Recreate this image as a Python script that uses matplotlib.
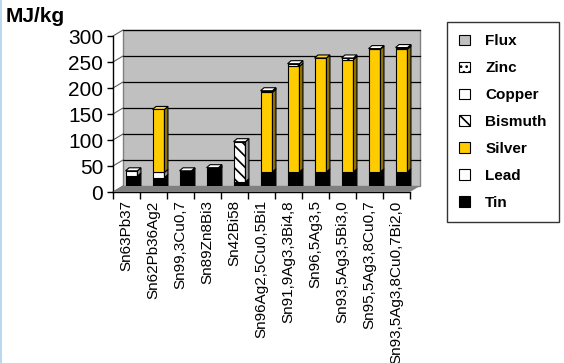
import matplotlib
matplotlib.use('Agg')
import matplotlib.pyplot as plt
import matplotlib.transforms as mtransforms
from matplotlib.patches import Polygon, Rectangle, Patch
import matplotlib.colors as mcolors

plt.rcParams['font.family'] = ['Liberation Sans', 'DejaVu Sans']
plt.rcParams['hatch.linewidth'] = 1.2

alloys = ['Sn63Pb37', 'Sn62Pb36Ag2', 'Sn99,3Cu0,7', 'Sn89Zn8Bi3', 'Sn42Bi58',
          'Sn96Ag2,5Cu0,5Bi1', 'Sn91,9Ag3,3Bi4,8', 'Sn96,5Ag3,5',
          'Sn93,5Ag3,5Bi3,0', 'Sn95,5Ag3,8Cu0,7', 'Sn93,5Ag3,8Cu0,7Bi2,0']

# MJ/kg per component, stacked bottom to top
tin     = [25, 22, 34, 36, 14, 33, 33, 33, 33, 33, 33]
lead    = [10, 10,  0,  0,  0,  0,  0,  0,  0,  0,  0]
silver  = [ 0, 121, 0,  0,  0, 153, 203, 219, 216, 236, 236]
bismuth = [ 0,  0,  0,  2, 77,  2,  5,  0,  3,  0,  2]
copper  = [ 0,  0,  1,  0,  0,  1,  0,  0,  0,  1,  1]
zinc    = [ 0,  0,  0,  3,  0,  0,  0,  0,  0,  0,  0]
flux    = [ 0,  0,  0,  0,  0,  0,  0,  0,  0,  0,  0]

series = [
    ('Tin', tin, 'black', None),
    ('Lead', lead, 'white', None),
    ('Silver', silver, '#ffcc00', None),
    ('Bismuth', bismuth, 'white', '\\\\\\'),
    ('Copper', copper, 'white', None),
    ('Zinc', zinc, 'white', '...'),
    ('Flux', flux, '#c0c0c0', None),
]

fig = plt.figure(figsize=(5.64, 3.63), dpi=100)
fig.patch.set_facecolor('white')
fig.patches.append(Rectangle((0, 0), 2 / 564, 1, transform=fig.transFigure,
                             facecolor='#bcd8f0', edgecolor='none'))

ax = fig.add_axes([113 / 564, 1 - 192 / 363, (410 - 113) / 564, (192 - 36) / 363])
ax.patch.set_visible(False)
ax.set_xlim(-0.5, len(alloys) - 0.5)
ax.set_ylim(0, 300)

# depth of the 3d wall in pixels
dx, dy = 10, 6
back = mtransforms.offset_copy(ax.transAxes, fig=fig, x=dx, y=dy, units='dots')
back_y = mtransforms.offset_copy(ax.get_yaxis_transform(), fig=fig, x=dx, y=dy, units='dots')
ax.add_patch(Rectangle((0, 0), 1, 1, transform=back, facecolor='#c0c0c0',
                       edgecolor='#808080', lw=1, zorder=0, clip_on=False))
for v in range(50, 301, 50):
    ax.plot([0, 1], [v, v], transform=back_y, color='black', lw=0.9, zorder=0.5,
            clip_on=False)

# floor
to_px = ax.transAxes.transform
inv = fig.transFigure.inverted()
p0, p1 = to_px((0, 0)), to_px((1, 0))
floor = [p0, p1, (p1[0] + dx, p1[1] + dy), (p0[0] + dx, p0[1] + dy)]
fig.patches.append(Polygon([inv.transform(p) for p in floor], closed=True,
                           transform=fig.transFigure, facecolor='#808080',
                           edgecolor='none', zorder=0.6))

# slanted grid lines on the left side wall
for v in range(0, 301, 50):
    a = ax.transData.transform((-0.5, v))
    ax.plot([a[0], a[0] + dx], [a[1], a[1] + dy], transform=None,
            color='#606060', lw=0.8, clip_on=False, zorder=0.5)

# bars with a small 3d depth
bw = 0.44
bdx, bdy = 3.5, 3
shift = mtransforms.offset_copy(ax.transData, fig=fig, x=5, y=3, units='dots')
bottom = [0] * len(alloys)
for name, vals, col, hatch in series:
    for i, v in enumerate(vals):
        if v <= 0:
            continue
        b = bottom[i]
        ax.bar(i, v, bw, bottom=b, color=col, edgecolor='black', lw=0.8,
               hatch=hatch, transform=shift, zorder=2)
        # side face
        r0 = shift.transform((i + bw / 2, b))
        r1 = shift.transform((i + bw / 2, b + v))
        side = [r0, r1, (r1[0] + bdx, r1[1] + bdy), (r0[0] + bdx, r0[1] + bdy)]
        rgb = mcolors.to_rgb(col)
        dark = tuple(c * 0.55 for c in rgb)
        ax.add_patch(Polygon(side, closed=True, transform=None, facecolor=dark,
                             edgecolor='black', lw=0.8, zorder=2, clip_on=False))
    for i, v in enumerate(vals):
        bottom[i] += v

# top faces
for i, total in enumerate(bottom):
    top_col = 'white'
    for name, vals, col, hatch in series:
        if vals[i] > 0:
            top_col = col
    l = shift.transform((i - bw / 2, total))
    r = shift.transform((i + bw / 2, total))
    top = [l, r, (r[0] + bdx, r[1] + bdy), (l[0] + bdx, l[1] + bdy)]
    rgb = mcolors.to_rgb(top_col)
    light = tuple(min(1, c * 0.8 + 0.2) for c in rgb)
    ax.add_patch(Polygon(top, closed=True, transform=None, facecolor=light,
                         edgecolor='black', lw=0.8, zorder=2, clip_on=False))

for s in ['top', 'right']:
    ax.spines[s].set_visible(False)
ax.spines['left'].set_linewidth(1)
ax.spines['bottom'].set_linewidth(1)

ax.set_yticks(range(0, 301, 50))
ax.tick_params(axis='y', labelsize=15, length=4, width=1, pad=3)
ax.set_xticks(range(len(alloys)))
ax.set_xticklabels(alloys, rotation=90, fontsize=11)
ax.tick_params(axis='x', length=0, pad=6)
ax.set_xticks([i - 0.5 for i in range(len(alloys) + 1)], minor=True)
ax.tick_params(axis='x', which='minor', length=5, width=1)

fig.text(6 / 564, 1 - 16 / 363, 'MJ/kg', fontsize=15, fontweight='bold',
         ha='left', va='center')

handles = []
for name, vals, col, hatch in reversed(series):
    handles.append(Patch(facecolor=col, edgecolor='black', hatch=hatch, lw=0.8,
                         label=name))
leg = fig.legend(handles=handles, loc='upper left',
                 bbox_to_anchor=(447 / 564, 1 - 22 / 363), borderaxespad=0,
                 frameon=True, fancybox=False, edgecolor='black',
                 prop={'size': 11, 'weight': 'bold'}, handlelength=0.7,
                 handleheight=0.7, labelspacing=0.85, handletextpad=1.0,
                 borderpad=0.8)
leg.get_frame().set_linewidth(1)

fig.savefig('out.png', dpi=100)
